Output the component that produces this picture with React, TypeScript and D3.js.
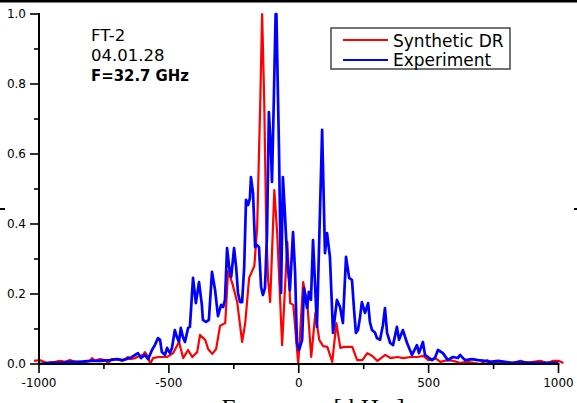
import React from "react";
import * as d3 from "d3";

// Synthetic DR: [frequency kHz, normalized amplitude]
const syntheticDR: [number, number][] = [
  [-1019,0.009],[-996,0.011],[-969,0.003],[-938,0.006],[-919,0.009],[-900,0.006],[-881,0.011],[-861,0.006],
  [-842,0.006],[-823,0.006],[-803,0.009],[-796,0.017],[-784,0.009],[-765,0.014],[-746,0.011],[-734,0.003],
  [-719,0.014],[-699,0.014],[-680,0.009],[-657,0.02],[-649,0.014],[-630,0.017],[-622,0.02],[-599,0.026],
  [-592,0.034],[-580,0.02],[-572,0.0],[-561,0.017],[-541,0.02],[-522,0.02],[-507,0.02],[-484,0.031],
  [-461,0.063],[-445,0.017],[-426,0.04],[-410,0.02],[-391,0.034],[-380,0.083],[-360,0.069],[-349,0.043],
  [-333,0.029],[-318,0.043],[-303,0.109],[-283,0.117],[-272,0.266],[-256,0.231],[-237,0.177],[-218,0.063],
  [-206,0.117],[-191,0.246],[-171,0.28],[-160,0.391],[-148,0.754],[-141,1.0],[-133,0.754],[-125,0.383],
  [-118,0.24],[-110,0.177],[-94,0.497],[-83,0.374],[-64,0.054],[-44,0.349],[-33,0.174],[-21,0.169],
  [-2,0.0],[17,0.234],[33,0.174],[48,0.02],[64,0.146],[79,0.069],[94,0.051],[110,0.049],[129,0.006],
  [145,0.117],[160,0.046],[175,0.049],[206,0.049],[225,0.011],[245,0.011],[264,0.031],[283,0.023],
  [303,0.009],[333,0.026],[353,0.017],[380,0.02],[403,0.017],[430,0.02],[457,0.02],[480,0.023],
  [499,0.011],[526,0.017],[545,0.006],[572,0.011],[595,0.009],[622,0.003],[649,0.006],[672,0.003],
  [699,0.0],[726,0.011],[749,0.003],[776,0.006],[803,0.003],[827,0.003],[853,0.009],[880,0.003],
  [903,0.006],[930,0.009],[957,0.003],[980,0.009],[1000,0.009],[1019,0.003],
];

// Experiment: [frequency kHz, normalized amplitude]
const experiment: [number, number][] = [
  [-1000,0],[-958,0.003],[-920,0.003],[-881,0.006],[-843,0.006],[-804,0.009],[-765,0.009],[-727,0.011],
  [-700,0.014],[-677,0.011],[-650,0.017],[-619,0.031],[-607,0.017],[-592,0.026],[-580,0.014],[-565,0.04],
  [-554,0.054],[-542,0.074],[-534,0.069],[-527,0.034],[-515,0.026],[-507,0.046],[-496,0.031],[-488,0.046],
  [-477,0.097],[-469,0.077],[-461,0.063],[-454,0.103],[-446,0.077],[-438,0.063],[-426,0.103],[-419,0.106],
  [-407,0.246],[-396,0.174],[-384,0.234],[-373,0.169],[-369,0.126],[-357,0.12],[-346,0.126],[-334,0.263],
  [-322,0.211],[-311,0.137],[-299,0.169],[-291,0.163],[-284,0.183],[-276,0.331],[-268,0.277],[-260,0.249],
  [-249,0.331],[-241,0.277],[-234,0.203],[-226,0.177],[-218,0.177],[-210,0.277],[-203,0.469],[-195,0.454],
  [-188,0.474],[-184,0.534],[-176,0.489],[-168,0.334],[-161,0.34],[-153,0.334],[-145,0.22],[-138,0.197],
  [-130,0.217],[-122,0.374],[-115,0.72],[-107,0.611],[-103,0.52],[-96,0.754],[-89,1.0],[-86,1.0],
  [-76,0.611],[-68,0.203],[-61,0.534],[-53,0.426],[-45,0.306],[-34,0.211],[-22,0.377],[-14,0.26],
  [-7,0.06],[1,0.04],[13,0.069],[20,0.217],[32,0.16],[39,0.206],[47,0.183],[55,0.354],[62,0.24],
  [70,0.106],[90,0.669],[101,0.317],[109,0.374],[120,0.306],[132,0.089],[147,0.183],[159,0.163],
  [170,0.117],[182,0.306],[194,0.246],[205,0.24],[213,0.154],[220,0.089],[228,0.097],[236,0.134],
  [243,0.177],[255,0.146],[267,0.174],[274,0.12],[282,0.097],[294,0.089],[301,0.074],[313,0.069],
  [324,0.111],[332,0.16],[340,0.089],[352,0.06],[363,0.054],[378,0.106],[386,0.069],[401,0.097],
  [417,0.06],[436,0.026],[455,0.054],[463,0.031],[478,0.063],[486,0.026],[497,0.02],[513,0.011],
  [524,0.017],[536,0.04],[555,0.031],[574,0.011],[593,0.02],[613,0.017],[621,0.026],[640,0.011],
  [667,0.014],[690,0.011],[717,0.009],[736,0.006],[767,0.009],[794,0.006],[821,0.003],[852,0.006],
  [890,0.003],[929,0.003],[967,0.003],[1000,0.003],
];

const xMajorTicks = [-1000, -500, 0, 500, 1000];
const xMinorTicks = [-750, -250, 250, 750];
const yMajorTicks = [0, 0.2, 0.4, 0.6, 0.8, 1.0];
const yMinorTicks = [0.1, 0.3, 0.5, 0.7, 0.9];
const legendLabels = ["Synthetic DR", "Experiment"];
const annotation = ["FT-2", "04.01.28", "F=32.7 GHz"];
const xTitle = "Frequency [ kHz ]";

const W = 577;
const H = 403;
const FONT = "'DejaVu Sans', Verdana, sans-serif";

export default function App() {
  const x = d3.scaleLinear().domain([-1000, 1000]).range([39, 558.5]);
  const y = d3.scaleLinear().domain([0, 1]).range([364, 14]);
  const line = d3
    .line<[number, number]>()
    .x((d) => x(d[0]))
    .y((d) => y(d[1]));

  const axisY0 = y(0);
  const axisX0 = x(-1000);

  return (
    <svg
      width={W}
      height={H}
      style={{ position: "absolute", left: 0, top: 0, background: "#fff" }}
      fontFamily={FONT}
    >
      <rect x={0} y={0} width={W} height={H} fill="#fff" />
      {/* crop artifacts */}
      <rect x={0} y={0} width={W} height={2.5} fill="#000" />
      <rect x={0} y={208} width={5} height={2} fill="#000" />
      <rect x={574} y={208} width={3} height={2} fill="#000" />

      {/* data lines */}
      <path d={line(syntheticDR) || ""} fill="none" stroke="#ff0000" strokeWidth={2.2} strokeLinejoin="round" />
      <path d={line(experiment) || ""} fill="none" stroke="#0000ff" strokeWidth={2.7} strokeLinejoin="round" />

      {/* axes */}
      <line x1={axisX0} x2={axisX0} y1={y(1) - 1} y2={axisY0 + 1} stroke="#000" strokeWidth={2} />
      <line x1={axisX0 - 1} x2={x(1000) + 1} y1={axisY0} y2={axisY0} stroke="#000" strokeWidth={2} />

      {xMajorTicks.map((t) => (
        <g key={"xm" + t}>
          <line x1={x(t)} x2={x(t)} y1={axisY0} y2={axisY0 + 9} stroke="#000" strokeWidth={1.6} />
          <text x={x(t)} y={386.5} fontSize={12} textAnchor="middle" fill="#000">
            {t}
          </text>
        </g>
      ))}
      {xMinorTicks.map((t) => (
        <line key={"xn" + t} x1={x(t)} x2={x(t)} y1={axisY0} y2={axisY0 + 5} stroke="#000" strokeWidth={1.6} />
      ))}
      {yMajorTicks.map((t) => (
        <g key={"ym" + t}>
          <line x1={axisX0 - 9} x2={axisX0} y1={y(t)} y2={y(t)} stroke="#000" strokeWidth={1.6} />
          <text x={26} y={y(t) + 4.4} fontSize={12} textAnchor="end" fill="#000">
            {t.toFixed(1)}
          </text>
        </g>
      ))}
      {yMinorTicks.map((t) => (
        <line key={"yn" + t} x1={axisX0 - 5} x2={axisX0} y1={y(t)} y2={y(t)} stroke="#000" strokeWidth={1.6} />
      ))}

      {/* x axis title (cut off by the frame, as in the reference) */}
      <text
        x={313}
        y={415}
        fontSize={24}
        textAnchor="middle"
        fontFamily="'Liberation Serif', 'Times New Roman', serif"
        textLength={183}
        lengthAdjust="spacingAndGlyphs"
        fill="#000"
      >
        {xTitle}
      </text>

      {/* annotation */}
      <text x={91} y={41} fontSize={16.5} fill="#000">{annotation[0]}</text>
      <text x={91} y={61} fontSize={16.5} fill="#000">{annotation[1]}</text>
      <text x={91} y={81} fontSize={16.5} fontWeight="bold" fill="#000" textLength={98} lengthAdjust="spacingAndGlyphs">
        {annotation[2]}
      </text>

      {/* legend */}
      <rect x={331} y={28} width={179} height={41} fill="#fff" stroke="#444" strokeWidth={1.5} />
      <line x1={343} x2={388} y1={40} y2={40} stroke="#ff0000" strokeWidth={2} />
      <line x1={343} x2={388} y1={60} y2={60} stroke="#0000ff" strokeWidth={2} />
      <text x={393} y={47} fontSize={17} fill="#000">{legendLabels[0]}</text>
      <text x={393} y={66} fontSize={17} fill="#000">{legendLabels[1]}</text>
    </svg>
  );
}
